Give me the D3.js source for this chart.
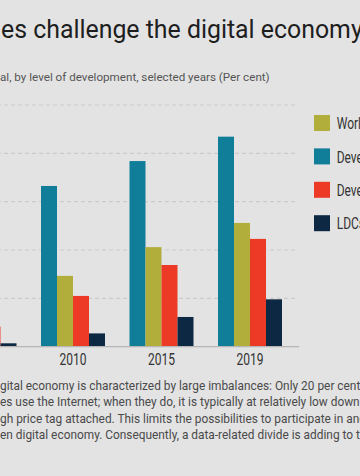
<!DOCTYPE html>
<html><head><meta charset="utf-8">
<script src="https://cdn.jsdelivr.net/npm/d3@7"></script>
<style>html,body{margin:0;padding:0;background:#e3e3e3;overflow:hidden}svg{display:block}</style>
</head><body>
<svg id="c" width="360" height="476"></svg>
<script>
// ---- data ----
const years = ["2005", "2010", "2015", "2019"];
const seriesKeys = ["developed", "world", "developing", "ldcs"]; // bar order within a group
const developed = [51, 66.5, 76.8, 86.9];
const world = [16, 29.3, 41.2, 51.2];
const developing = [8.3, 21.0, 33.8, 44.6];
const ldcs = [1.4, 5.5, 12.3, 19.6];
const yTicks = [0, 20, 40, 60, 80, 100];
const legendKeys = ["world", "developed", "developing", "ldcs"];
const legendLabels = ["World", "Developed", "Developing", "LDCs"];
const titleText = "es challenge the digital economy";
const subtitleText = "al, by level of development, selected years (Per cent)";
const bodyLines = [
  "gital economy is characterized by large imbalances: Only 20 per cent",
  "es use the Internet; when they do, it is typically at relatively low download",
  "gh price tag attached. This limits the possibilities to participate in and",
  "en digital economy. Consequently, a data-related divide is adding to the"
];

// ---- styles ----
const colors = {developed: "#107d99", world: "#b1ae3b", developing: "#ec3a27", ldcs: "#0c2842"};
const valuesByKey = {developed, world, developing, ldcs};
const bodyFont = "Roboto, 'Noto Sans', sans-serif";
const narrowFont = "Roboto, 'Noto Sans', sans-serif";

const svg = d3.select("#c");
svg.append("rect").attr("width", 360).attr("height", 476).attr("fill", "#e3e3e3");

function measure(str, font, size) {
  const tmp = svg.append("text").attr("font-family", font).attr("font-size", size).text(str);
  const w = tmp.node().getComputedTextLength();
  tmp.remove();
  return w;
}
function fitSize(str, font, target) { return 20 * target / measure(str, font, 20); }

// title
svg.append("text").attr("x", 1).attr("y", 38.3)
  .attr("font-family", bodyFont).attr("fill", "#1e1e1e")
  .attr("font-size", fitSize("es challenge the digital econom", bodyFont, 350))
  .text(titleText);

// subtitle
svg.append("text").attr("x", 0).attr("y", 80.8)
  .attr("font-family", bodyFont).attr("fill", "#555")
  .attr("font-size", fitSize(subtitleText, bodyFont, 270))
  .text(subtitleText);

// scales
const x = d3.scaleBand().domain(years).range([-47.5, 282]).paddingInner(0.2768).paddingOuter(0);
const xs = d3.scaleBand().domain(seriesKeys).range([0, x.bandwidth()]);
const y = d3.scaleLinear().domain([0, 100]).range([346.7, 105]);

// gridlines
svg.append("g").selectAll("line").data(yTicks.filter(d => d > 0)).join("line")
  .attr("x1", -10).attr("x2", 298)
  .attr("y1", d => y(d)).attr("y2", d => y(d))
  .attr("stroke", "#cbcbcb").attr("stroke-width", 1.2).attr("stroke-dasharray", "4,3");

// bars
const groups = svg.append("g").selectAll("g").data(years).join("g")
  .attr("transform", d => `translate(${x(d)},0)`);
groups.selectAll("rect").data((yr, i) => seriesKeys.map(k => ({k, v: valuesByKey[k][i]}))).join("rect")
  .attr("x", d => xs(d.k)).attr("width", xs.bandwidth())
  .attr("y", d => y(d.v)).attr("height", d => y(0) - y(d.v))
  .attr("fill", d => colors[d.k]);

// condensed look: horizontal squeeze so "2010" is ~27px wide at 16.5px
const labelSize = 16.5;
const sx = 27 / measure("2010", narrowFont, labelSize);

// baseline + x axis
svg.append("line").attr("x1", -10).attr("x2", 299).attr("y1", y(0)).attr("y2", y(0))
  .attr("stroke", "#b5b5b5").attr("stroke-width", 1.2);
const xAxis = svg.append("g").attr("transform", `translate(0,${y(0)})`)
  .call(d3.axisBottom(x).tickSize(0).tickPadding(0));
xAxis.select(".domain").remove();
xAxis.selectAll(".tick text").attr("y", null).attr("dy", null)
  .attr("transform", `translate(0,18.3) scale(${sx},1)`)
  .attr("font-family", narrowFont).attr("font-size", labelSize).attr("fill", "#333");

// legend
const lg = svg.append("g").selectAll("g").data(legendKeys).join("g")
  .attr("transform", (d, i) => `translate(314,${115 + i * 33.4})`);
lg.append("rect").attr("width", 16).attr("height", 16).attr("fill", d => colors[d]);
lg.append("text").attr("transform", `translate(22.7,14.2) scale(${sx},1)`)
  .attr("font-family", narrowFont).attr("font-size", labelSize).attr("fill", "#333")
  .text((d, i) => legendLabels[i]);

// body text
const fsBody = fitSize("gital economy is characterized by large imbalances: Only 20 per cen", bodyFont, 357);
svg.append("g").attr("font-family", bodyFont).attr("fill", "#4a4a4a").attr("font-size", fsBody)
  .selectAll("text").data(bodyLines).join("text")
  .attr("x", 0).attr("y", (d, i) => 390 + i * 16.4).text(d => d);
</script>
</body></html>
